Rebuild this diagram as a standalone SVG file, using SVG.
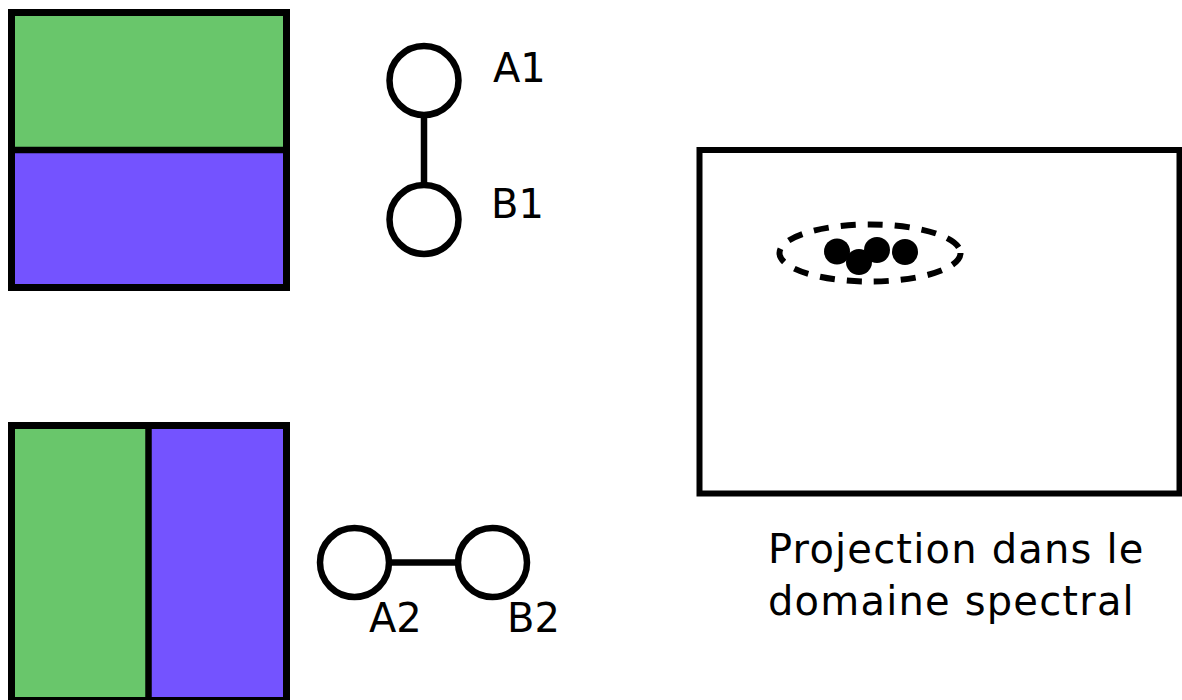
<svg xmlns="http://www.w3.org/2000/svg" width="1182" height="700" viewBox="0 0 1182 700">
<style>
.ln{stroke:#000;stroke-width:6.5;fill:none}
.node{fill:#fff;stroke:#000;stroke-width:6.5}
.lbl{font-family:"DejaVu Sans",sans-serif;font-size:40px;fill:#000}
.cap{letter-spacing:1.2px}
.green{fill:#69c66b}
.purple{fill:#7453ff}
</style>
<rect width="1182" height="700" fill="#fff"/>
<g id="square-horizontal">
<rect class="green" x="11.5" y="12.5" width="275" height="137.5"/>
<rect class="purple" x="11.5" y="150" width="275" height="137.5"/>
<line class="ln" x1="11.5" y1="150" x2="286.5" y2="150" stroke-width="7"/>
<rect x="11.5" y="12.5" width="275" height="275" fill="none" stroke="#000" stroke-width="7"/>
</g>
<g id="square-vertical">
<rect class="green" x="11.5" y="425.5" width="137" height="275"/>
<rect class="purple" x="148.5" y="425.5" width="138" height="275"/>
<line class="ln" x1="148.5" y1="425.5" x2="148.5" y2="700.5" stroke-width="7"/>
<rect x="11.5" y="425.5" width="275" height="275" fill="none" stroke="#000" stroke-width="7"/>
</g>
<g id="connectors">
<line class="ln" x1="424" y1="115" x2="424" y2="185"/>
<line class="ln" x1="389" y1="562.5" x2="458" y2="562.5"/>
</g>
<g id="A1"><circle class="node" cx="424" cy="80.5" r="34.5"/><text class="lbl" x="493" y="82">A1</text></g>
<g id="B1"><circle class="node" cx="424" cy="219.5" r="34.5"/><text class="lbl" x="491" y="218">B1</text></g>
<g id="A2"><circle class="node" cx="354.5" cy="562.5" r="34.5"/><text class="lbl" x="369" y="632">A2</text></g>
<g id="B2"><circle class="node" cx="492.5" cy="562.5" r="34.5"/><text class="lbl" x="507" y="632">B2</text></g>
<g id="spectral-domain">
<rect x="699.5" y="150" width="480" height="343.5" fill="#fff" stroke="#000" stroke-width="6"/>
<ellipse cx="870" cy="253" rx="90.5" ry="28.5" fill="none" stroke="#000" stroke-width="6" stroke-dasharray="15 12"/>
<circle cx="837" cy="251.5" r="13"/>
<circle cx="859" cy="262" r="13"/>
<circle cx="877" cy="250" r="13"/>
<circle cx="905" cy="252" r="13"/>
<text class="lbl cap" x="768" y="563">Projection dans le</text>
<text class="lbl cap" x="768" y="615">domaine spectral</text>
</g>
</svg>
